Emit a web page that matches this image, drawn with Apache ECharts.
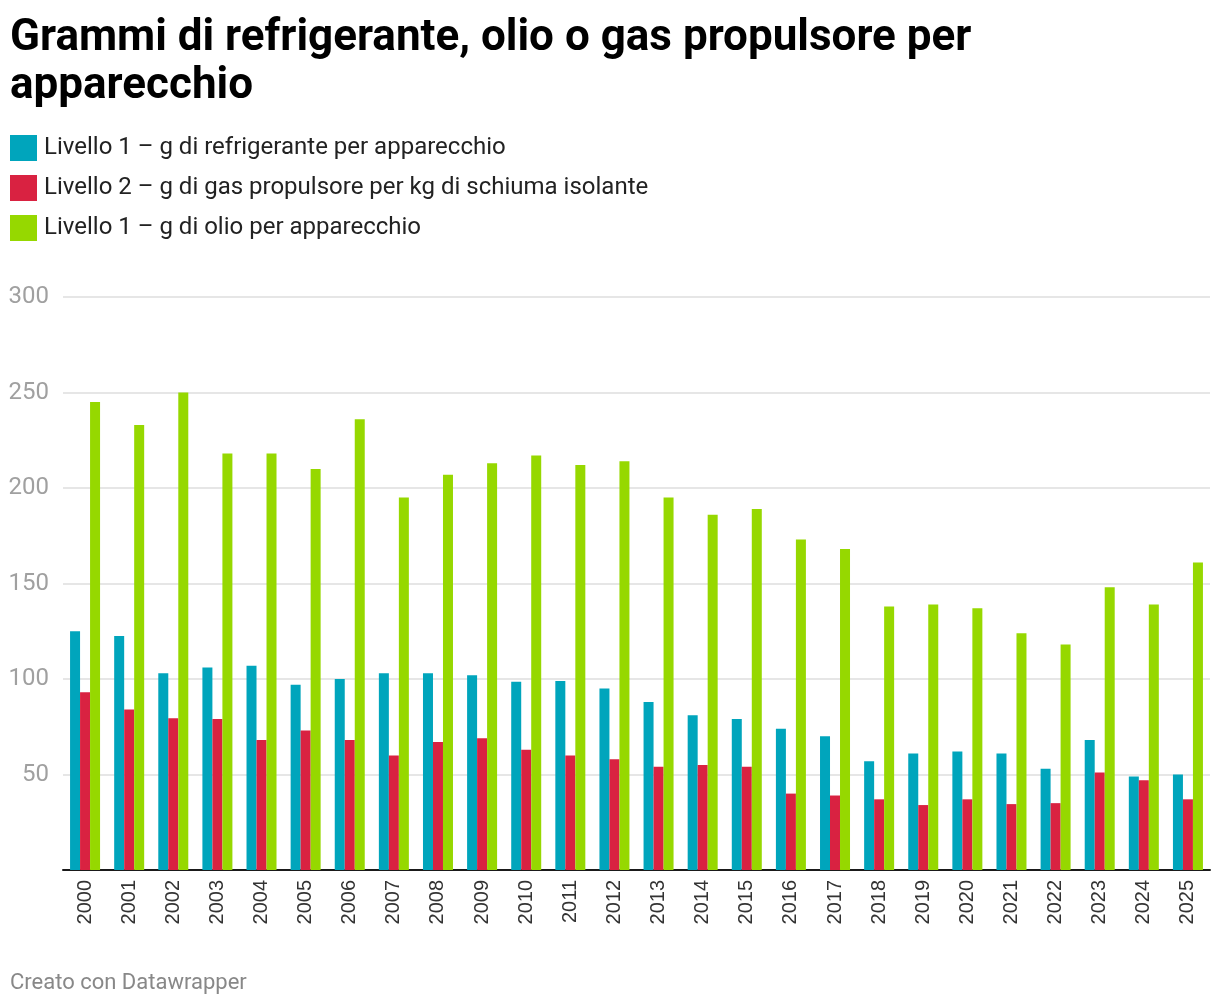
<!DOCTYPE html>
<html lang="it">
<head>
    <meta charset="UTF-8">
    <title>Grammi di refrigerante, olio o gas propulsore per apparecchio</title>
    <script src="https://cdn.jsdelivr.net/npm/echarts@6/dist/echarts.min.js"></script>
    <style>
        html, body { margin: 0; padding: 0; background: #fff; }
        #main { width: 1220px; height: 1006px; }
    </style>
</head>
<body>
<div id="main"></div>
<script>
    var anni = ['2000', '2001', '2002', '2003', '2004', '2005', '2006', '2007', '2008', '2009',
        '2010', '2011', '2012', '2013', '2014', '2015', '2016', '2017', '2018', '2019',
        '2020', '2021', '2022', '2023', '2024', '2025'];

    // Livello 1 – g di refrigerante per apparecchio
    var refrigerante = [125, 122.5, 103, 106, 107, 97, 100, 103, 103, 102,
        98.5, 99, 95, 88, 81, 79, 74, 70, 57, 61,
        62, 61, 53, 68, 49, 50];

    // Livello 2 – g di gas propulsore per kg di schiuma isolante
    var gasPropulsore = [93, 84, 79.5, 79, 68, 73, 68, 60, 67, 69,
        63, 60, 58, 54, 55, 54, 40, 39, 37, 34,
        37, 34.5, 35, 51, 47, 37];

    // Livello 1 – g di olio per apparecchio
    var olio = [245, 233, 250, 218, 218, 210, 236, 195, 207, 213,
        217, 212, 214, 195, 186, 189, 173, 168, 138, 139,
        137, 124, 118, 148, 139, 161];

    var nomiSerie = [
        'Livello 1 – g di refrigerante per apparecchio',
        'Livello 2 – g di gas propulsore per kg di schiuma isolante',
        'Livello 1 – g di olio per apparecchio'
    ];
    var colori = ['#00a5bc', '#d92241', '#96d800'];

    var myChart = echarts.init(document.getElementById('main'));

    var option = {
        animation: false,
        color: colori,
        title: [{
            text: 'Grammi di refrigerante, olio o gas propulsore per\napparecchio',
            left: 10,
            top: 15,
            padding: 0,
            textStyle: {
                fontFamily: 'Roboto',
                fontSize: 44,
                lineHeight: 48,
                fontWeight: 'bold',
                color: '#000'
            }
        }, {
            text: 'Creato con Datawrapper',
            left: 10,
            top: 972,
            padding: 0,
            textStyle: {
                fontFamily: 'Roboto',
                fontSize: 22,
                fontWeight: 'normal',
                color: '#888'
            }
        }],
        legend: {
            orient: 'vertical',
            left: 10,
            top: 135,
            padding: 0,
            itemWidth: 27,
            itemHeight: 26,
            itemGap: 14,
            icon: 'rect',
            selectedMode: false,
            textStyle: {
                fontFamily: 'Roboto',
                fontSize: 24,
                lineHeight: 26,
                color: '#222',
                padding: [0, 0, 0, 2]
            },
            data: nomiSerie
        },
        grid: {
            left: 63,
            right: 10,
            top: 297,
            bottom: 136,
            containLabel: false
        },
        xAxis: {
            type: 'category',
            data: anni,
            axisTick: { show: false },
            axisLine: {
                lineStyle: { color: '#1a1a1a', width: 2 }
            },
            axisLabel: {
                interval: 0,
                rotate: 90,
                margin: 10,
                fontFamily: 'Liberation Sans',
                fontSize: 20,
                color: '#333'
            }
        },
        yAxis: {
            type: 'value',
            min: 0,
            max: 300,
            interval: 50,
            axisLine: { show: false },
            axisTick: { show: false },
            axisLabel: {
                margin: 14,
                fontFamily: 'Roboto',
                fontSize: 24,
                color: '#a0a0a0',
                formatter: function (v) { return v === 0 ? '' : v; }
            },
            splitLine: {
                lineStyle: { color: '#e6e6e6', width: 2 }
            }
        },
        series: [{
            name: nomiSerie[0],
            type: 'bar',
            data: refrigerante,
            barWidth: 10,
            barGap: '0%'
        }, {
            name: nomiSerie[1],
            type: 'bar',
            data: gasPropulsore,
            barWidth: 10,
            barGap: '0%'
        }, {
            name: nomiSerie[2],
            type: 'bar',
            data: olio,
            barWidth: 10,
            barGap: '0%'
        }]
    };

    myChart.setOption(option);
    window.addEventListener('resize', function () {
        myChart.resize();
    });
</script>
</body>
</html>
